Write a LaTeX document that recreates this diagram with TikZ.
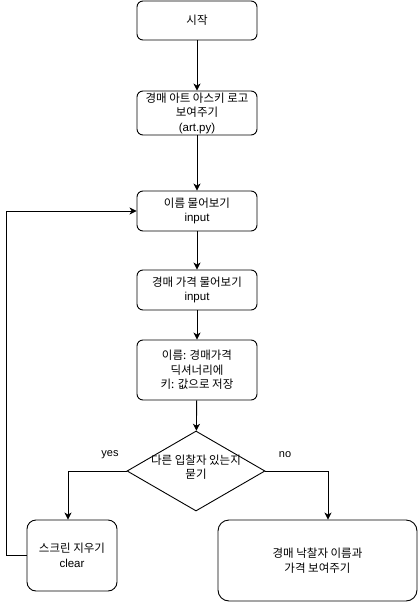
\documentclass[tikz,border=0pt]{standalone}
\usepackage{fontspec}
\setmainfont{Liberation Sans}
\newfontfamily\kr{Noto Sans CJK KR}
\usetikzlibrary{shapes.geometric,arrows.meta}
\begin{document}
\begin{tikzpicture}[x=1pt,y=-1pt,
  box/.style={draw,line width=0.9pt,rounded corners=6pt,align=center,inner sep=0pt,font=\fontsize{11.5}{14.5}\selectfont},
  dia/.style={draw,line width=0.9pt,diamond,inner sep=0pt,minimum width=138pt,minimum height=80pt},
  txt/.style={align=center,inner sep=0pt,font=\fontsize{11.5}{14.5}\selectfont},
  lbl/.style={inner sep=0pt,font=\fontsize{11}{13}\selectfont},
  arr/.style={draw,line width=0.9pt,-{Stealth[length=7pt,width=7pt,inset=2pt]}},
  ln/.style={draw,line width=0.9pt}]
\useasboundingbox (0,0) rectangle (419,602);
\node[box,minimum width=120pt,minimum height=39pt] (s) at (197,20.5) {{\kr 시작}};
\node[box,minimum width=120pt,minimum height=44pt] (art) at (197,113) {{\kr 경매 아트 아스키 로고}\\{\kr 보여주기}\\(art.py)};
\node[box,minimum width=120pt,minimum height=40pt] (name) at (197,211) {{\kr 이름 물어보기}\\input};
\node[box,minimum width=120pt,minimum height=40pt] (price) at (197,290) {{\kr 경매 가격 물어보기}\\input};
\node[box,minimum width=120pt,minimum height=60pt] (save) at (197,370) {{\kr 이름: 경매가격}\\{\kr 딕셔너리에}\\{\kr 키: 값으로 저장}};
\node[dia] (d) at (196,471) {};
\node[txt] (dt) at (196,467) {{\kr 다른 입찰자 있는지}\\{\kr 묻기}};
\node[box,rounded corners=9pt,minimum width=90pt,minimum height=71pt] (clr) at (72,555.5) {{\kr 스크린 지우기}\\clear};
\node[box,rounded corners=11pt,minimum width=199pt,minimum height=81pt] (win) at (317.5,560.5) {{\kr 경매 낙찰자 이름과}\\{\kr 가격 보여주기}};
\node[lbl] (yes) at (110,455) {yes};
\node[lbl] (no) at (285,455) {no};
\coordinate (clrin) at ([xshift=-4pt]clr.north);
\coordinate (winin) at ([xshift=10.5pt]win.north);
\draw[arr] (s) -- (art);
\draw[arr] (art) -- (name);
\draw[arr] (name) -- (price);
\draw[arr] (price) -- (save);
\draw[arr] (save) -- (d);
\draw[arr] (d.west) -| (clrin);
\draw[arr] (d.east) -| (winin);
\draw[arr] (clr.west) -- ++(-20,0) |- (name.west);
\end{tikzpicture}
\end{document}
